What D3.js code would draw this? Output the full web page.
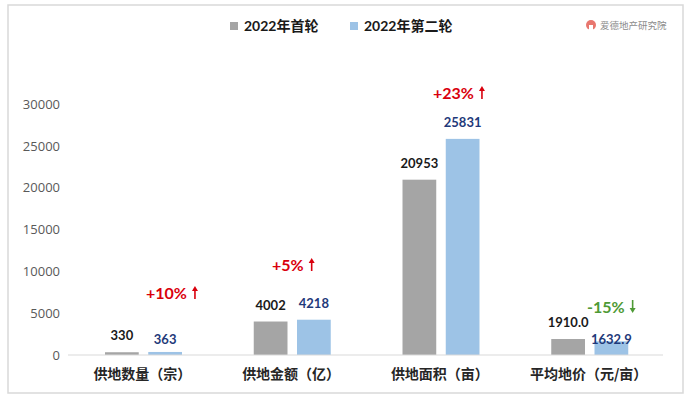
<!DOCTYPE html>
<html>
<head>
<meta charset="utf-8">
<script src="https://cdn.jsdelivr.net/npm/d3@7"></script>
<style>
  body { margin: 0; background: #fff; }
  text { font-family: Lato, "Noto Sans CJK SC", sans-serif; }
</style>
</head>
<body>
<div id="chart"></div>
<script>
var categories = ["供地数量（宗）", "供地金额（亿）", "供地面积（亩）", "平均地价（元/亩）"];
var seriesNames = ["2022年首轮", "2022年第二轮"];
var firstRound = [330, 4002, 20953, 1910.0];
var secondRound = [363, 4218, 25831, 1632.9];
var valueLabels1 = ["330", "4002", "20953", "1910.0"];
var valueLabels2 = ["363", "4218", "25831", "1632.9"];
var changes = ["+10%", "+5%", "+23%", "-15%"];
var yTicks = [0, 5000, 10000, 15000, 20000, 25000, 30000];

var colors = ["#a5a5a5", "#9dc3e6"];
var labelColors = ["#1a1a1a", "#1f3a7a"];

var W = 689, H = 399;
var svg = d3.select("#chart").append("svg")
    .attr("width", W)
    .attr("height", H);

// frame
svg.append("rect")
    .attr("x", 8).attr("y", 5)
    .attr("width", 675).attr("height", 388)
    .attr("fill", "#fff")
    .attr("stroke", "#d9d9d9")
    .attr("stroke-width", 1.5);

var x = d3.scaleBand().domain(categories).range([68, 663]).paddingInner(0).paddingOuter(0);
var x1 = d3.scaleBand().domain(seriesNames).range([37, 114]).paddingInner(0.22);
var y = d3.scaleLinear().domain([0, 30000]).range([355, 104]);

// y axis labels (no line)
var yAxis = svg.append("g")
    .attr("transform", "translate(60,0)")
    .call(d3.axisLeft(y).tickValues(yTicks).tickSize(0).tickPadding(0).tickFormat(d3.format("d")));
yAxis.select(".domain").remove();
yAxis.selectAll("text")
    .attr("fill", "#595959")
    .style("font-size", "13px")
    .style("font-family", "'Open Sans', Lato, sans-serif");

// bars
var rows = categories.map(function(c, i) {
    return { cat: c, vals: [firstRound[i], secondRound[i]], labels: [valueLabels1[i], valueLabels2[i]] };
});

var groups = svg.selectAll(".grp")
    .data(rows)
    .enter().append("g")
    .attr("class", "grp")
    .attr("transform", function(d) { return "translate(" + x(d.cat) + ",0)"; });

groups.selectAll("rect")
    .data(function(d) { return d.vals.map(function(v, j) { return { v: v, s: seriesNames[j], j: j }; }); })
    .enter().append("rect")
    .attr("x", function(d) { return x1(d.s); })
    .attr("y", function(d) { return y(d.v); })
    .attr("width", x1.bandwidth())
    .attr("height", function(d) { return y(0) - y(d.v); })
    .attr("fill", function(d) { return colors[d.j]; });

groups.each(function(d, i) {
    var g = d3.select(this);
    d.vals.forEach(function(v, j) {
        var ly = y(v) - 12;
        // excel pushed the last blue label down onto the bar
        if (i === 3 && j === 1) ly = y(v) + 3;
        if (i === 0 && j === 1) ly = y(v) - 8;
        g.append("text")
            .attr("x", x1(seriesNames[j]) + x1.bandwidth() / 2)
            .attr("y", ly)
            .attr("text-anchor", "middle")
            .attr("fill", labelColors[j])
            .style("font-size", "13px")
            .style("font-weight", "bold")
            .text(d.labels[j]);
    });
});

// baseline
svg.append("line")
    .attr("x1", 68).attr("x2", 663)
    .attr("y1", y(0)).attr("y2", y(0))
    .attr("stroke", "#d9d9d9")
    .attr("stroke-width", 1.2);

// category labels
svg.selectAll(".cat")
    .data(categories)
    .enter().append("text")
    .attr("class", "cat")
    .attr("x", function(d) { return x(d) + x.bandwidth() / 2; })
    .attr("y", 379)
    .attr("text-anchor", "middle")
    .attr("fill", "#262626")
    .style("font-family", "'Noto Sans CJK SC', sans-serif")
    .style("font-size", "14px")
    .style("font-weight", "bold")
    .text(function(d) { return d; });

// change annotations: text start x, baseline y
var annPos = [[146, 299], [272, 271], [433, 99], [587, 313]];
changes.forEach(function(c, i) {
    var up = c.charAt(0) === "+";
    var col = up ? "#d9000d" : "#4e9a35";
    var t = svg.append("text")
        .attr("x", annPos[i][0])
        .attr("y", annPos[i][1])
        .attr("fill", col)
        .style("font-size", "16px")
        .style("font-weight", "bold")
        .text(c);
    var w = t.node().getComputedTextLength();
    var ax = annPos[i][0] + w + 8;
    var top = annPos[i][1] - 13, bot = annPos[i][1];
    svg.append("line")
        .attr("x1", ax).attr("x2", ax)
        .attr("y1", up ? top + 3 : top).attr("y2", up ? bot : bot - 3)
        .attr("stroke", col).attr("stroke-width", 1.6);
    var p = up
        ? "M" + (ax - 3) + "," + (top + 5) + " L" + ax + "," + top + " L" + (ax + 3) + "," + (top + 5) + "Z"
        : "M" + (ax - 3) + "," + (bot - 5) + " L" + ax + "," + bot + " L" + (ax + 3) + "," + (bot - 5) + "Z";
    svg.append("path").attr("d", p).attr("fill", col);
});

// legend
var legendX = [230, 350];
seriesNames.forEach(function(s, i) {
    svg.append("rect")
        .attr("x", legendX[i]).attr("y", 22)
        .attr("width", 8).attr("height", 8)
        .attr("fill", colors[i]);
    svg.append("text")
        .attr("x", legendX[i] + 14).attr("y", 31)
        .attr("fill", "#1a1a1a")
        .style("font-size", "14px")
        .style("font-weight", "bold")
        .text(s);
});

// logo
svg.append("circle").attr("cx", 591).attr("cy", 25).attr("r", 5).attr("fill", "#e8776f");
svg.append("rect").attr("x", 589).attr("y", 25).attr("width", 4).attr("height", 5).attr("fill", "#fff");
svg.append("text")
    .attr("x", 600).attr("y", 29)
    .attr("fill", "#8c8c8c")
    .style("font-family", "'Noto Sans CJK SC', sans-serif")
    .style("font-size", "9.5px")
    .text("爱德地产研究院");
</script>
</body>
</html>
